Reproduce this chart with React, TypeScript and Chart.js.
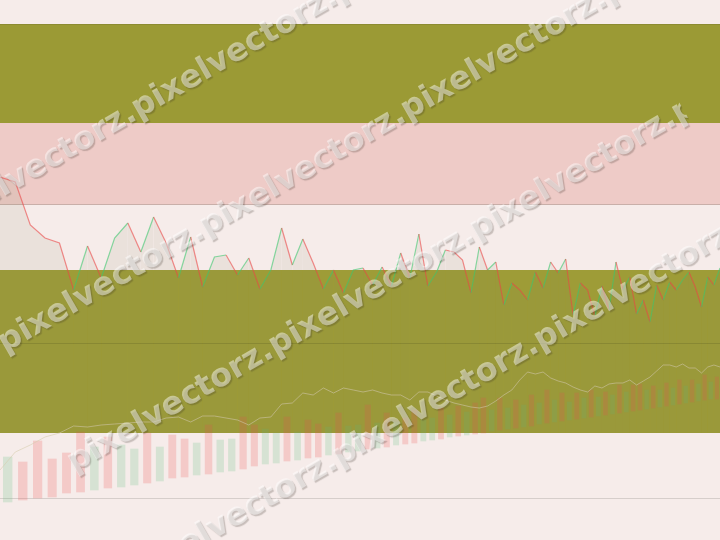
import { useEffect, useRef } from "react";
import { Chart, registerables } from "chart.js";

Chart.register(...registerables);

// ---- data ----
const dayOffset = 50; // first session number on the (compressed) time axis
const lastDay = 127;

const priceValues = [
  363, 358, 315, 302, 297, 250, 294, 262, 302, 317,
  288, 323, 297, 262, 303, 253, 283, 285, 265, 282,
  251, 270, 312, 275, 301, 277, 251, 270, 247, 270,
  272, 255, 273, 254, 287, 262, 306, 254, 268, 290,
  288, 280, 247, 293, 270, 278, 235, 257, 250, 240,
  268, 252, 278, 267, 281, 225, 257, 250, 224, 254,
  230, 278, 250, 263, 226, 240, 218, 255, 240, 258,
  250, 260, 268, 253, 233, 263, 255, 272,
];

const maValues = [
  70, 88, 95, 103, 107, 114, 113, 115, 116, 117,
  118, 118, 122, 123, 118, 124, 124, 122, 120, 115,
  122, 123, 136, 137, 147, 145, 152, 147, 152, 150,
  148, 150, 147, 145, 145, 140, 148, 148, 144, 140,
  137, 135, 133, 132, 134, 139, 145, 150, 160, 168,
  166, 168, 162, 159, 157, 153, 150, 148, 154, 152,
  156, 157, 157, 160, 155, 159, 163, 169, 175, 175,
  173, 176, 172, 172, 167, 173, 175, 173,
];

const volumeTops = [
  83, 78, 99, 81, 87, 108, 93, 103, 95, 91,
  107, 93, 105, 101, 97, 115, 100, 101, 123, 115,
  111, 107, 123, 108, 120, 116, 113, 127, 114, 115,
  135, 117, 127, 118, 122, 130, 120, 122, 132, 125,
  134, 128, 137, 142, 130, 142, 132, 140, 135, 145,
  137, 150, 140, 147, 138, 147, 142, 150, 143, 148,
  145, 155, 148, 155, 156, 150, 154, 150, 157, 152,
  160, 154, 160, 156, 165, 158, 163,
];

const volumeBases = [
  38, 40, 42, 43, 47, 48, 50, 52, 53, 55,
  57, 59, 62, 63, 65, 66, 68, 69, 71, 74,
  76, 77, 79, 80, 82, 83, 85, 86, 88, 89,
  91, 92, 93, 95, 96, 97, 99, 100, 101, 103,
  104, 105, 106, 107, 109, 110, 111, 112, 113, 114,
  116, 117, 118, 119, 120, 121, 122, 123, 124, 125,
  126, 127, 128, 129, 130, 131, 132, 133, 134, 135,
  136, 137, 138, 139, 140, 141, 141,
];

const volumeDir = (
  "g r r r r r g r g g r g r r g r g g r r g g r g r r g r g g " +
  "r g r g r r g g r g r g r r g r g r g r g r g r g r g r g r " +
  "g r g r r g r g r g r g r g r g r"
).split(" ");

// horizontal bands (value range on the vertical scale) and rules
const bandFrom = [516, 417, 270];
const bandTo = [417, 336, 107];
const bandColors = ["#9b9a35", "#eecbc7", "#9e9c37"];
const ruleValues = [516, 336, 197, 42];
const ruleColors = ["#8c8b31", "#c9afa9", "#8a892f", "#d6cecb"];
const pageColor = "#f6ecea";

const watermarkText = "pixelvectorz.";
const watermarkRows = [172, 308, 446, 574];

// ---- styles ----
const upLine = "rgba(60,200,110,0.6)";
const downLine = "rgba(235,70,70,0.6)";
const upBar = "rgba(90,190,120,0.2)";
const downBar = "rgba(239,83,80,0.22)";

const bandsPlugin = {
  id: "bands",
  beforeDatasetsDraw(chart: any) {
    const { ctx, chartArea, scales } = chart;
    const y = scales.y;
    const left = chartArea.left;
    const width = chartArea.right - chartArea.left;
    ctx.save();
    ctx.fillStyle = pageColor;
    ctx.fillRect(left, chartArea.top, width, chartArea.bottom - chartArea.top);
    bandFrom.forEach((from, i) => {
      const y1 = y.getPixelForValue(from);
      const y2 = y.getPixelForValue(bandTo[i]);
      ctx.fillStyle = bandColors[i];
      ctx.fillRect(left, y1, width, y2 - y1);
    });
    ruleValues.forEach((v, i) => {
      const py = Math.round(y.getPixelForValue(v));
      ctx.fillStyle = ruleColors[i];
      ctx.fillRect(left, py, width, 1);
    });
    ctx.restore();
  },
};

const watermarkPlugin = {
  id: "watermark",
  afterDraw(chart: any) {
    const { ctx } = chart;
    ctx.save();
    ctx.rotate(-Math.PI / 6);
    ctx.font = "bold 32px 'DejaVu Sans'";
    ctx.textBaseline = "alphabetic";
    const uStart = -172;
    const uEnd = 537;
    ctx.beginPath();
    ctx.rect(uStart - 2, 100, uEnd - uStart + 2, 520);
    ctx.clip();
    ctx.fillStyle = "rgba(255,255,255,0.47)";
    ctx.shadowColor = "rgba(45,40,30,0.5)";
    ctx.shadowOffsetX = 1.5;
    ctx.shadowOffsetY = 1.5;
    ctx.shadowBlur = 1;
    const w = ctx.measureText(watermarkText).width;
    watermarkRows.forEach((v) => {
      for (let u = uStart; u < uEnd; u += w) ctx.fillText(watermarkText, u, v);
    });
    ctx.restore();
  },
};

export default function App() {
  const canvasRef = useRef<HTMLCanvasElement | null>(null);

  useEffect(() => {
    const canvas = canvasRef.current;
    if (!canvas) return;

    const priceData = priceValues.map((v, i) => ({ x: dayOffset + i, y: v }));
    const maData = maValues.map((v, i) => ({ x: dayOffset + i, y: v }));
    const volumeData = volumeTops.map((t, i) => ({
      x: dayOffset + i + 0.5,
      y: [volumeBases[i], t],
    }));

    const chart = new Chart(canvas, {
      type: "bar",
      data: {
        datasets: [
          {
            type: "line",
            label: "Price",
            data: priceData,
            borderWidth: 1.2,
            pointRadius: 0,
            tension: 0,
            borderColor: downLine,
            backgroundColor: "rgba(130,130,90,0.1)",
            fill: { value: 107 },
            segment: {
              borderColor: (c: any) => (c.p1.parsed.y >= c.p0.parsed.y ? upLine : downLine),
            },
            order: 1,
          } as any,
          {
            type: "line",
            label: "MA",
            data: maData,
            borderWidth: 1,
            pointRadius: 0,
            tension: 0,
            borderColor: "rgba(215,205,175,0.6)",
            fill: false,
            order: 2,
          } as any,
          {
            type: "bar",
            label: "Volume",
            data: volumeData,
            backgroundColor: volumeDir.map((d) => (d === "g" ? upBar : downBar)),
            borderWidth: 0,
            barThickness: "flex",
            barPercentage: 0.58,
            categoryPercentage: 1,
            order: 3,
          } as any,
        ],
      },
      options: {
        responsive: false,
        maintainAspectRatio: false,
        devicePixelRatio: 1,
        animation: false,
        layout: { padding: 0 },
        plugins: { legend: { display: false }, tooltip: { enabled: false } },
        scales: {
          x: { type: "logarithmic", min: dayOffset, max: lastDay, display: false },
          y: { type: "linear", min: 0, max: 540, display: false },
        },
      } as any,
      plugins: [bandsPlugin, watermarkPlugin],
    });

    return () => chart.destroy();
  }, []);

  return (
    <div style={{ position: "fixed", left: 0, top: 0, width: 720, height: 540 }}>
      <canvas ref={canvasRef} width={720} height={540} style={{ display: "block" }} />
    </div>
  );
}
